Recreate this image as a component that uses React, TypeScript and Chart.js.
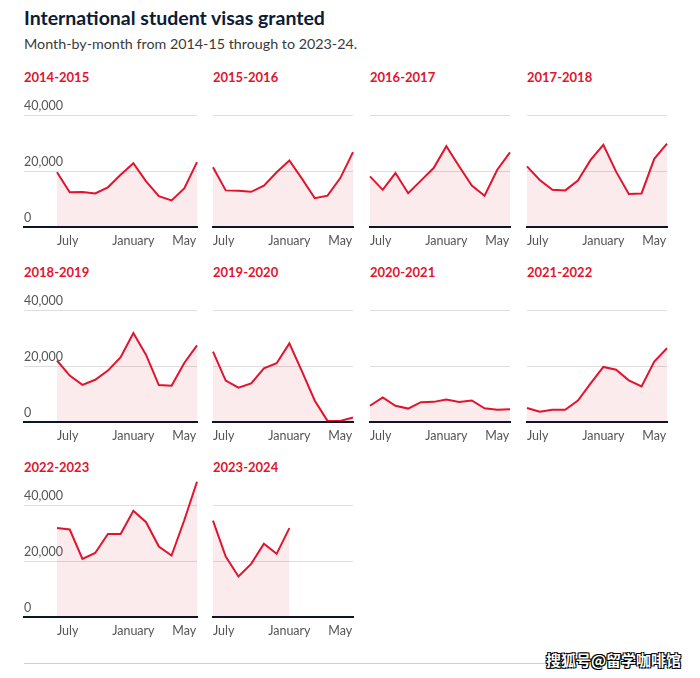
import React, { useEffect, useRef } from 'react';
import { Chart, registerables } from 'chart.js';

Chart.register(...registerables);

const panelTitles = [
  '2014-2015', '2015-2016', '2016-2017', '2017-2018',
  '2018-2019', '2019-2020', '2020-2021', '2021-2022',
  '2022-2023', '2023-2024',
];

const v1415 = [19600, 12400, 12500, 12000, 14200, 18700, 22800, 16300, 11000, 9500, 13800, 23200];
const v1516 = [21400, 13100, 13000, 12600, 14800, 19600, 23800, 17200, 10300, 11200, 17500, 26800];
const v1617 = [18100, 13300, 19300, 12100, 16600, 21100, 28900, 21700, 14800, 11200, 20500, 26700];
const v1718 = [21700, 16800, 13300, 13100, 16600, 24000, 29400, 19800, 11800, 12000, 24400, 29800];
const v1819 = [22000, 16600, 13300, 15100, 18400, 23200, 31800, 24000, 13200, 13000, 21100, 27400];
const v1920 = [25200, 14800, 12300, 13800, 19200, 21000, 28100, 18000, 7600, 400, 400, 1600];
const v2021 = [5800, 8800, 5800, 4800, 7100, 7200, 8000, 7200, 7700, 4900, 4400, 4600];
const v2122 = [5000, 3700, 4400, 4400, 7700, 13800, 19700, 18700, 14900, 12700, 21600, 26400];
const v2223 = [31800, 31300, 20800, 22900, 29700, 29700, 38000, 33900, 25200, 22000, 34600, 48400];
const v2324 = [34500, 21600, 14500, 19000, 26200, 22600, 31800];

const panelValues = [v1415, v1516, v1617, v1718, v1819, v1920, v2021, v2122, v2223, v2324];

const xTickIndex = [0, 6, 10];
const xTickLabels = ['July', 'January', 'May'];
const yTickValues = [0, 20000, 40000];
const yMax = 48650;

const RED = '#e2132d';
const FILL = 'rgba(226,19,45,0.085)';
const NAVY = '#0c1529';
const FONT = 'Lato, "Open Sans", sans-serif';

Chart.defaults.font.family = FONT;

const colChartLeft = [24, 213, 370, 527];
const colChartWidth = [173, 140, 140, 140];
const rowTop = [81, 276, 471];
const PAD = 6;

function Panel({ idx }: { idx: number }) {
  const ref = useRef<HTMLCanvasElement | null>(null);
  const col = idx % 4;
  const row = Math.floor(idx / 4);
  const first = col === 0;
  const width = colChartWidth[col] + PAD * 2;
  const height = 173;

  useEffect(() => {
    if (!ref.current) return;
    const xMin = first ? -((colChartWidth[0] - 140) / 140) * 11 : 0;
    const chart = new Chart(ref.current, {
      type: 'line',
      data: {
        datasets: [
          {
            data: panelValues[idx].map((v, i) => ({ x: i, y: v })),
            borderColor: RED,
            backgroundColor: FILL,
            borderWidth: 2,
            fill: 'origin',
            pointRadius: 0,
            tension: 0,
            clip: false as any,
          },
        ],
      },
      options: {
        animation: false,
        responsive: false,
        devicePixelRatio: 1,
        layout: { padding: { top: 10, left: PAD, right: PAD, bottom: 0 } },
        plugins: { legend: { display: false }, tooltip: { enabled: false }, title: { display: false } },
        scales: {
          x: {
            type: 'linear',
            min: xMin,
            max: 11,
            grid: { display: false, drawTicks: false },
            border: { display: true, color: NAVY, width: 2, z: 1 },
            afterBuildTicks: (s: any) => {
              s.ticks = [...xTickIndex, 11].map((v) => ({ value: v }));
            },
            ticks: {
              autoSkip: false,
              maxRotation: 0,
              align: 'inner',
              padding: 6,
              color: '#555',
              font: { size: 12.5 },
              callback: (v: any) => {
                const k = xTickIndex.indexOf(Number(v));
                return k >= 0 ? xTickLabels[k] : '';
              },
            },
          },
          y: {
            min: 0,
            max: yMax,
            afterBuildTicks: (s: any) => {
              s.ticks = yTickValues.map((v) => ({ value: v }));
            },
            grid: {
              drawTicks: false,
              color: (c: any) => (c.tick && c.tick.value === 0 ? 'rgba(0,0,0,0)' : '#dedede'),
              lineWidth: 1,
            },
            border: { display: false },
            ticks: {
              display: first,
              z: 1,
              mirror: true,
              padding: 0,
              labelOffset: -9,
              color: '#555',
              font: { size: 12.5 },
              callback: (v: any) => Number(v).toLocaleString('en-US'),
            },
          },
        },
      } as any,
    });
    return () => chart.destroy();
  }, []);

  return (
    <>
      <div
        style={{
          position: 'absolute',
          left: colChartLeft[col],
          top: rowTop[row] - 11.7,
          font: `bold 13px ${FONT}`,
          lineHeight: '16px',
          color: RED,
          whiteSpace: 'nowrap',
        }}
      >
        {panelTitles[idx]}
      </div>
      <canvas
        ref={ref}
        width={width}
        height={height}
        style={{
          position: 'absolute',
          left: colChartLeft[col] - PAD,
          top: rowTop[row],
          width,
          height,
        }}
      />
    </>
  );
}

export default function App() {
  return (
    <div style={{ position: 'absolute', left: 0, top: 0, width: 700, height: 678, background: '#fff', fontFamily: FONT }}>
      <div
        style={{
          position: 'absolute',
          left: 24,
          top: 5.5,
          font: `bold 19.5px ${FONT}`,
          lineHeight: '24px',
          color: '#0d1b33',
          whiteSpace: 'nowrap',
        }}
      >
        International student visas granted
      </div>
      <div
        style={{
          position: 'absolute',
          left: 24,
          top: 35.1,
          font: `14.3px ${FONT}`,
          lineHeight: '18px',
          color: '#3a3a3a',
          whiteSpace: 'nowrap',
        }}
      >
        Month-by-month from 2014-15 through to 2023-24.
      </div>
      {panelValues.map((_, i) => (
        <Panel key={i} idx={i} />
      ))}
      <div style={{ position: 'absolute', left: 24, top: 663, width: 521, height: 1, background: '#cfcfcf' }} />
      <div
        style={{
          position: 'absolute',
          left: 546,
          top: 651,
          font: `bold 15px "Noto Sans CJK SC", sans-serif`,
          lineHeight: '18px',
          color: '#ffffff',
          textShadow: '0 0 1px #000, 1px 1px 0 #000, -1px -1px 0 #000, 1px -1px 0 #000, -1px 1px 0 #000',
          whiteSpace: 'nowrap',
        }}
      >
        搜狐号@留学咖啡馆
      </div>
    </div>
  );
}
